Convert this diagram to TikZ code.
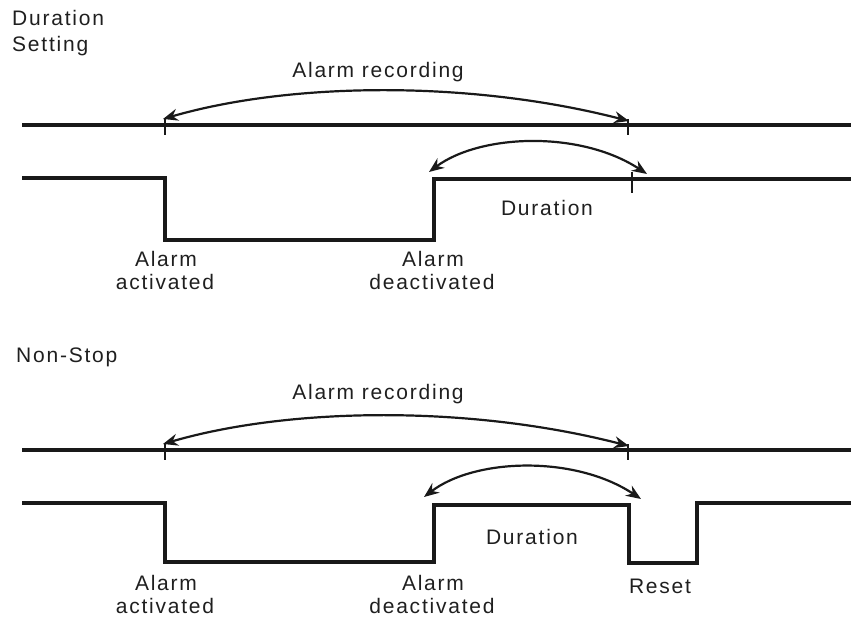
\documentclass[tikz,border=0pt]{standalone}
\usepackage{fontspec}
\setmainfont{Liberation Sans}[LetterSpace=8.5]
\usetikzlibrary{arrows.meta}
\begin{document}
\begin{tikzpicture}[x=1pt,y=-1pt,
  lbl/.style={inner sep=0pt,text=black!88,font=\fontsize{21}{23}\selectfont},
  sig/.style={line width=4pt,line join=miter,black!90},
  base/.style={line width=3.8pt,black!90},
  tickmark/.style={line width=1.5pt,black!90},
  span/.style={line width=2.2pt,black!90,{Stealth[length=15pt,width=12pt,inset=5pt]}-{Stealth[length=15pt,width=12pt,inset=5pt]}}]
\useasboundingbox (0,0) rectangle (851,620);
% ---------- top: Duration Setting ----------
\node[lbl,anchor=west] (t1) at (12,18) {Duration};
\node[lbl,anchor=west] (t2) at (12,46) {Setting};
\node[lbl] (rec1) at (378,72) {Alarm recording};
\coordinate (l1a) at (22,125);
\coordinate (l1b) at (851,125);
\draw[base] (l1a) -- (l1b);
\coordinate (k1a) at (165,119); \coordinate (k1b) at (165,135);
\coordinate (k2a) at (628,119); \coordinate (k2b) at (628,135);
\draw[tickmark] (k1a) -- (k1b);
\draw[tickmark] (k2a) -- (k2b);
\coordinate (r1a) at (163,119);
\coordinate (r1b) at (629,121);
\draw[span] (r1a) .. controls (290,82) and (470,80) .. (r1b);
% signal 1
\coordinate (s1) at (22,178);
\coordinate (s2) at (165,178);
\coordinate (s3) at (165,240);
\coordinate (s4) at (434,240);
\coordinate (s5) at (434,179);
\coordinate (s6) at (851,179);
\draw[sig] (s1) -- (s2) -- (s3) -- (s4) -- (s5) -- (s6);
\coordinate (k3a) at (632,172); \coordinate (k3b) at (632,193);
\draw[tickmark] (k3a) -- (k3b);
\coordinate (d1a) at (429,172);
\coordinate (d1b) at (647,174);
\draw[span] (d1a) .. controls (480,134) and (580,130) .. (d1b);
\node[lbl] (dur1) at (547,208) {Duration};
\node[lbl] (a1) at (166,259) {Alarm};
\node[lbl] (a2) at (165,282) {activated};
\node[lbl] (b1) at (433,259) {Alarm};
\node[lbl] (b2) at (432,282) {deactivated};
% ---------- bottom: Non-Stop ----------
\node[lbl,anchor=west] (n1) at (16,357) {Non-Stop};
\node[lbl] (rec2) at (378,394) {Alarm recording};
\coordinate (l2a) at (22,450);
\coordinate (l2b) at (851,450);
\draw[base] (l2a) -- (l2b);
\coordinate (k4a) at (165,444); \coordinate (k4b) at (165,460);
\coordinate (k5a) at (628,444); \coordinate (k5b) at (628,460);
\draw[tickmark] (k4a) -- (k4b);
\draw[tickmark] (k5a) -- (k5b);
\coordinate (r2a) at (163,444);
\coordinate (r2b) at (629,446);
\draw[span] (r2a) .. controls (290,407) and (470,405) .. (r2b);
% signal 2
\coordinate (u1) at (22,503);
\coordinate (u2) at (165,503);
\coordinate (u3) at (165,562);
\coordinate (u4) at (434,562);
\coordinate (u5) at (434,505);
\coordinate (u6) at (629,505);
\coordinate (u7) at (629,563);
\coordinate (u8) at (697,563);
\coordinate (u9) at (697,503);
\coordinate (u10) at (851,503);
\draw[sig] (u1) -- (u2) -- (u3) -- (u4) -- (u5) -- (u6) -- (u7) -- (u8) -- (u9) -- (u10);
\coordinate (d2a) at (424,497);
\coordinate (d2b) at (641,499);
\draw[span] (d2a) .. controls (475,458) and (575,455) .. (d2b);
\node[lbl] (dur2) at (532,537) {Duration};
\node[lbl] (c1) at (166,583) {Alarm};
\node[lbl] (c2) at (165,606) {activated};
\node[lbl] (e1) at (433,583) {Alarm};
\node[lbl] (e2) at (432,606) {deactivated};
\node[lbl] (rs) at (660,586) {Reset};
\end{tikzpicture}
\end{document}
